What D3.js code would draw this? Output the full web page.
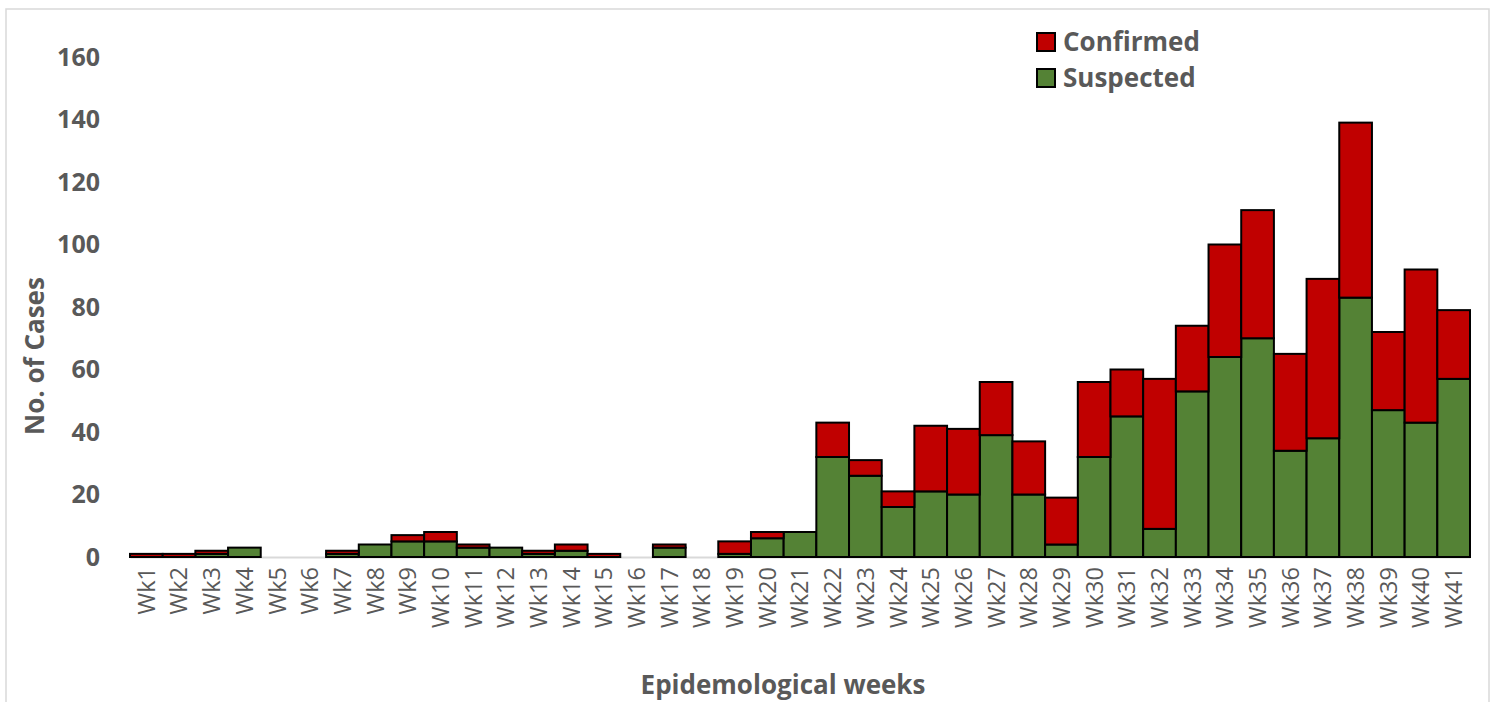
<!DOCTYPE html>
<html>
<head>
<meta charset="utf-8">
<script src="https://cdn.jsdelivr.net/npm/d3@7"></script>
<style>
  html, body { margin: 0; padding: 0; background: #fff; }
  svg { display: block; }
</style>
</head>
<body>
<svg id="chart" width="1493" height="702"></svg>
<script>
const weeks = ["Wk1","Wk2","Wk3","Wk4","Wk5","Wk6","Wk7","Wk8","Wk9","Wk10","Wk11","Wk12","Wk13","Wk14","Wk15","Wk16","Wk17","Wk18","Wk19","Wk20","Wk21","Wk22","Wk23","Wk24","Wk25","Wk26","Wk27","Wk28","Wk29","Wk30","Wk31","Wk32","Wk33","Wk34","Wk35","Wk36","Wk37","Wk38","Wk39","Wk40","Wk41"];
const suspected = [0,0,1,3,0,0,1,4,5,5,3,3,1,2,0,0,3,0,1,6,8,32,26,16,21,20,39,20,4,32,45,9,53,64,70,34,38,83,47,43,57];
const confirmed = [1,1,1,0,0,0,1,0,2,3,1,0,1,2,1,0,1,0,4,2,0,11,5,5,21,21,17,17,15,24,15,48,21,36,41,31,51,56,25,49,22];
const yTicks = [0,20,40,60,80,100,120,140,160];
const seriesNames = ["Suspected","Confirmed"];
const seriesColors = ["#548235","#C00000"];
const legendOrder = ["Confirmed","Suspected"];

const svg = d3.select("#chart");
const textColor = "#595959";
const margin = {left: 130, right: 23, top: 57, bottom: 145};
const W = 1493, H = 702;

// chart border
svg.append("rect").attr("x",6).attr("y",9).attr("width",1483).attr("height",700)
  .attr("fill","none").attr("stroke","#d9d9d9").attr("stroke-width",1.5);

const x = d3.scaleBand().domain(weeks).range([margin.left, W - margin.right]).padding(0);
const y = d3.scaleLinear().domain([0,160]).range([H - margin.bottom, margin.top]);

const table = weeks.map((w,i) => ({week: w, Suspected: suspected[i], Confirmed: confirmed[i]}));
const stack = d3.stack().keys(seriesNames)(table);

// x axis
const xAxis = svg.append("g").attr("transform", `translate(0,${y(0)})`)
  .call(d3.axisBottom(x).tickSize(0).tickPadding(0));
xAxis.select(".domain").attr("stroke","#d9d9d9").attr("stroke-width",2);
xAxis.selectAll("text")
  .attr("transform","rotate(-90)")
  .attr("text-anchor","end")
  .attr("dx","-10")
  .attr("dy","0.36em")
  .attr("x",0).attr("y",0)
  .style("font-family","'Open Sans', sans-serif")
  .style("font-size","23.5px")
  .attr("fill",textColor);

const g = svg.append("g");
stack.forEach((layer, li) => {
  g.append("g").selectAll("rect").data(layer.filter(d => d[1] - d[0] > 0)).join("rect")
    .attr("x", d => x(d.data.week))
    .attr("width", x.bandwidth())
    .attr("y", d => y(d[1]))
    .attr("height", d => y(d[0]) - y(d[1]))
    .attr("fill", seriesColors[li])
    .attr("stroke", "#000")
    .attr("stroke-width", 2);
});

// y axis
const yAxis = svg.append("g").attr("transform", `translate(${margin.left},0)`)
  .call(d3.axisLeft(y).tickValues(yTicks).tickSize(0).tickPadding(30));
yAxis.select(".domain").remove();
yAxis.selectAll("text")
  .style("font-family","'Open Sans', sans-serif")
  .style("font-size","25px")
  .style("font-weight","bold")
  .attr("fill",textColor);

// axis titles
svg.append("text")
  .attr("transform","translate(44,356) rotate(-90)")
  .attr("text-anchor","middle")
  .style("font-family","'Open Sans', sans-serif")
  .style("font-size","26px").style("font-weight","bold")
  .attr("fill",textColor)
  .text("No. of Cases");

svg.append("text")
  .attr("x",783).attr("y",694)
  .attr("text-anchor","middle")
  .style("font-family","'Open Sans', sans-serif")
  .style("font-size","26px").style("font-weight","bold")
  .attr("fill",textColor)
  .text("Epidemological weeks");

// legend
const legend = svg.append("g").attr("transform","translate(1036,32)");
legendOrder.forEach((name,i) => {
  const col = seriesColors[seriesNames.indexOf(name)];
  const row = legend.append("g").attr("transform",`translate(0,${i*36})`);
  row.append("rect").attr("x",1).attr("y",1).attr("width",18).attr("height",18)
    .attr("fill",col).attr("stroke","#000").attr("stroke-width",2);
  row.append("text").attr("x",27).attr("y",19)
    .style("font-family","'Open Sans', sans-serif")
    .style("font-size","26px").style("font-weight","bold")
    .attr("fill",textColor).text(name);
});
</script>
</body>
</html>
